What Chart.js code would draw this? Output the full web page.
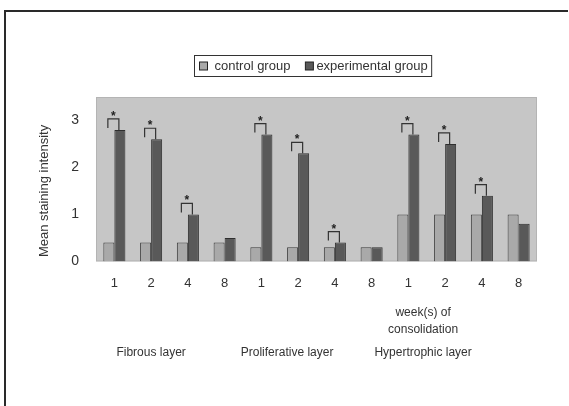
<!DOCTYPE html>
<html>
<head>
<meta charset="utf-8">
<script src="https://cdn.jsdelivr.net/npm/chart.js@4"></script>
<style>
body { margin: 0; background: #fff; }
canvas { display: block; }
</style>
</head>
<body>
<canvas id="myChart" width="569" height="406"></canvas>
<script>
// #-------------- Chart Data --------------#
const weeks = ['1', '2', '4', '8', '1', '2', '4', '8', '1', '2', '4', '8'];
const layers = ['Fibrous layer', 'Proliferative layer', 'Hypertrophic layer'];
const layerLabelIndex = [1.0, 4.7, 8.4];     // where each layer name sits along the x scale
const controlGroup = [0.4, 0.4, 0.4, 0.4, 0.3, 0.3, 0.3, 0.3, 1.0, 1.0, 1.0, 1.0];
const experimentalGroup = [2.8, 2.6, 1.0, 0.5, 2.7, 2.3, 0.4, 0.3, 2.7, 2.5, 1.4, 0.8];
const significant = [true, true, true, false, true, true, true, false, true, true, true, false];
const yTicks = [0, 1, 2, 3];

const textColor = '#333';
const fontFamily = '"Liberation Sans", Arial, sans-serif';

// Outer frame (top and left lines) + grey plot area
const backgroundPlugin = {
    id: 'background',
    beforeDraw(chart) {
        const ctx = chart.ctx;
        const a = chart.chartArea;
        ctx.save();
        ctx.strokeStyle = '#2a2a2a';
        ctx.lineWidth = 2;
        ctx.beginPath();
        ctx.moveTo(5, 406);
        ctx.lineTo(5, 11);
        ctx.lineTo(568, 11);
        ctx.stroke();

        ctx.fillStyle = '#c6c6c6';
        ctx.fillRect(a.left, a.top, a.right - a.left, a.bottom - a.top);
        ctx.strokeStyle = '#b4b4b4';
        ctx.lineWidth = 1;
        ctx.strokeRect(a.left + 0.5, a.top + 0.5, a.right - a.left - 1, a.bottom - a.top - 1);
        ctx.restore();
    }
};

// Significance brackets with asterisks
const bracketPlugin = {
    id: 'brackets',
    afterDatasetsDraw(chart) {
        const ctx = chart.ctx;
        const ctrl = chart.getDatasetMeta(0).data;
        const exp = chart.getDatasetMeta(1).data;
        ctx.save();
        ctx.strokeStyle = '#333';
        ctx.lineWidth = 1.2;
        ctx.fillStyle = '#222';
        ctx.font = 'bold 12px ' + fontFamily;
        ctx.textAlign = 'center';
        ctx.textBaseline = 'alphabetic';
        significant.forEach((sig, i) => {
            if (!sig) return;
            const xl = ctrl[i].x - 1;
            const xr = exp[i].x - 1;
            const top = exp[i].y;
            const h = top - 11;
            ctx.beginPath();
            ctx.moveTo(xl, h + 9);
            ctx.lineTo(xl, h);
            ctx.lineTo(xr, h);
            ctx.lineTo(xr, top);
            ctx.stroke();
            ctx.fillText('*', (xl + xr) / 2, h + 1);
        });
        ctx.restore();
    }
};

// Legend box, y title and the layer labels under the axis
const labelsPlugin = {
    id: 'labels',
    afterDraw(chart) {
        const ctx = chart.ctx;
        const a = chart.chartArea;
        const xScale = chart.scales.x;
        const yScale = chart.scales.y;
        ctx.save();
        ctx.fillStyle = textColor;
        ctx.textBaseline = 'middle';

        // y axis title
        ctx.font = '13px ' + fontFamily;
        ctx.save();
        ctx.translate(44, yScale.getPixelForValue(1.5));
        ctx.rotate(-Math.PI / 2);
        ctx.textAlign = 'center';
        ctx.fillText('Mean staining intensity', 0, 0);
        ctx.restore();

        // layer names + axis note
        ctx.font = '12px ' + fontFamily;
        ctx.textAlign = 'center';
        layers.forEach((name, i) => {
            ctx.fillText(name, xScale.getPixelForValue(layerLabelIndex[i]), a.bottom + 91);
        });
        ctx.fillText('week(s) of', xScale.getPixelForValue(layerLabelIndex[2]), a.bottom + 51);
        ctx.fillText('consolidation', xScale.getPixelForValue(layerLabelIndex[2]), a.bottom + 68);

        // legend
        ctx.font = '13px ' + fontFamily;
        const sets = chart.data.datasets;
        const w1 = ctx.measureText(sets[0].label).width;
        const w2 = ctx.measureText(sets[1].label).width;
        const boxW = 5 + 8 + 7 + w1 + 15 + 8 + 3 + w2 + 4;
        const boxL = Math.round((a.left + a.right) / 2 - 4 - boxW / 2) + 0.5;
        const boxT = 55.5, boxH = 21;
        const cy = boxT + boxH / 2;
        ctx.strokeStyle = '#333';
        ctx.lineWidth = 1;
        ctx.strokeRect(boxL, boxT, boxW, boxH);
        ctx.textAlign = 'left';
        let x = boxL + 5;
        [[sets[0], w1, 7, 15], [sets[1], w2, 3, 4]].forEach(([ds, w, gap, after]) => {
            ctx.fillStyle = ds.backgroundColor;
            ctx.fillRect(x, cy - 4, 8, 8);
            ctx.strokeStyle = '#222';
            ctx.strokeRect(x, cy - 4, 8, 8);
            x += 8 + gap;
            ctx.fillStyle = textColor;
            ctx.fillText(ds.label, x, cy);
            x += w + after;
        });
        ctx.restore();
    }
};

const chart = new Chart(document.getElementById('myChart').getContext('2d'), {
    type: 'bar',
    data: {
        labels: weeks,
        datasets: [{
            label: 'control group',
            data: controlGroup,
            backgroundColor: '#a9a9a9',
            borderColor: '#3c3c3c',
            borderWidth: 1,
        }, {
            label: 'experimental group',
            data: experimentalGroup,
            backgroundColor: '#595959',
            borderColor: '#2e2e2e',
            borderWidth: 1,
        }]
    },
    options: {
        responsive: false,
        animation: false,
        devicePixelRatio: 1,
        categoryPercentage: 0.6,
        barPercentage: 1.0,
        layout: { padding: { top: 97, right: 32, bottom: 101, left: 0 } },
        plugins: {
            legend: { display: false },
            tooltip: { enabled: false },
        },
        scales: {
            x: {
                grid: { display: false, drawTicks: false },
                border: { display: false },
                ticks: { color: textColor, font: { size: 13, family: fontFamily }, padding: 14 },
            },
            y: {
                min: 0,
                max: 3.5,
                grid: { display: false, drawTicks: false },
                border: { display: false },
                ticks: { color: textColor, font: { size: 14, family: fontFamily }, padding: 17 },
                afterBuildTicks: scale => { scale.ticks = yTicks.map(v => ({ value: v })); },
                afterFit: scale => { scale.width = 96; },
            }
        }
    },
    plugins: [backgroundPlugin, bracketPlugin, labelsPlugin]
});
</script>
</body>
</html>
